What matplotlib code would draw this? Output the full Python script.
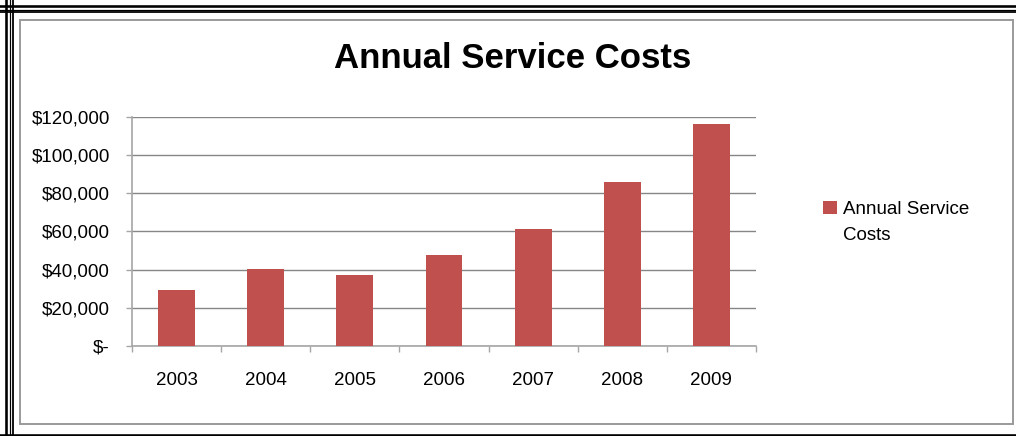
import matplotlib
matplotlib.use("Agg")
import matplotlib.pyplot as plt
from matplotlib.patches import Rectangle
from matplotlib.lines import Line2D
import numpy as np

years = ["2003", "2004", "2005", "2006", "2007", "2008", "2009"]
costs = [29300, 40400, 36900, 47400, 61400, 86200, 116700]
yticks = [0, 20000, 40000, 60000, 80000, 100000, 120000]
ytick_labels = ["$-", "$20,000", "$40,000", "$60,000", "$80,000", "$100,000", "$120,000"]
series_name = "Annual Service Costs"

W, H = 1016, 436
plt.rcParams['font.family'] = ['Liberation Sans', 'DejaVu Sans']

fig = plt.figure(figsize=(W / 100, H / 100), dpi=100)

# pixel -> figure fraction
def fx(x):
    return x / W

def fy(y):
    return 1 - y / H

# frame: black triple line + grey inner box
for p, lw in [(6.2, 2.6), (9.7, 1.2), (12.5, 1.8)]:
    fig.add_artist(Line2D([fx(0), fx(W)], [fy(p), fy(p)], color="black", lw=lw * 0.72))
    fig.add_artist(Line2D([fx(p), fx(p)], [fy(0), fy(H)], color="black", lw=lw * 0.72))
fig.add_artist(Line2D([fx(0), fx(W)], [fy(435), fy(435)], color="black", lw=2.6 * 0.72))
fig.add_artist(Rectangle((fx(20), fy(424)), fx(1013) - fx(20), fy(20) - fy(424),
                         fill=False, edgecolor="#9a9a9a", lw=1.4))

ax = fig.add_axes([fx(132.3), fy(345.7), fx(755.7) - fx(132.3), fy(117.3) - fy(345.7)])

x = np.arange(len(years))
ax.bar(x, costs, width=0.415, color="#C0504D", label=series_name, zorder=3)

ax.set_xlim(-0.5, len(years) - 0.5)
ax.set_ylim(0, 120000)
ax.set_yticks(yticks)
ax.set_yticklabels(ytick_labels)
ax.yaxis.grid(True, color="#868686", lw=1.0, zorder=0)

ax.set_xticks(x)
ax.set_xticklabels(years)
ax.set_xticks(np.arange(len(years) + 1) - 0.5, minor=True)
ax.tick_params(axis="x", which="major", length=0, pad=19, labelsize=13.5)
ax.tick_params(axis="x", which="minor", length=4, width=1, color="#a6a6a6")
ax.tick_params(axis="y", length=4, width=1, color="#a6a6a6", pad=12, labelsize=13.5)

for s in ["top", "right"]:
    ax.spines[s].set_visible(False)
for s in ["left", "bottom"]:
    ax.spines[s].set_color("#a6a6a6")
    ax.spines[s].set_linewidth(1.2)

fig.text(fx(513), fy(59), "Annual Service Costs", fontsize=25, fontweight="bold",
         ha="center", va="center")

# legend: wrap the label like Excel does, marker beside the first line
first, rest = "Annual Service", "Costs"
leg = ax.legend([ax.patches[0]], [first], loc="upper left",
                bbox_to_anchor=(fx(823), fy(201)), bbox_transform=fig.transFigure,
                frameon=False, fontsize=13.5, handlelength=0.72, handleheight=0.72,
                handletextpad=0.36, borderpad=0, borderaxespad=0)
fig.canvas.draw()
bb = leg.get_texts()[0].get_window_extent()
fig.text(bb.x0 / W, bb.y0 / H - 26 / H, rest, fontsize=13.5, ha="left", va="bottom")

fig.savefig("out.png", dpi=100)
